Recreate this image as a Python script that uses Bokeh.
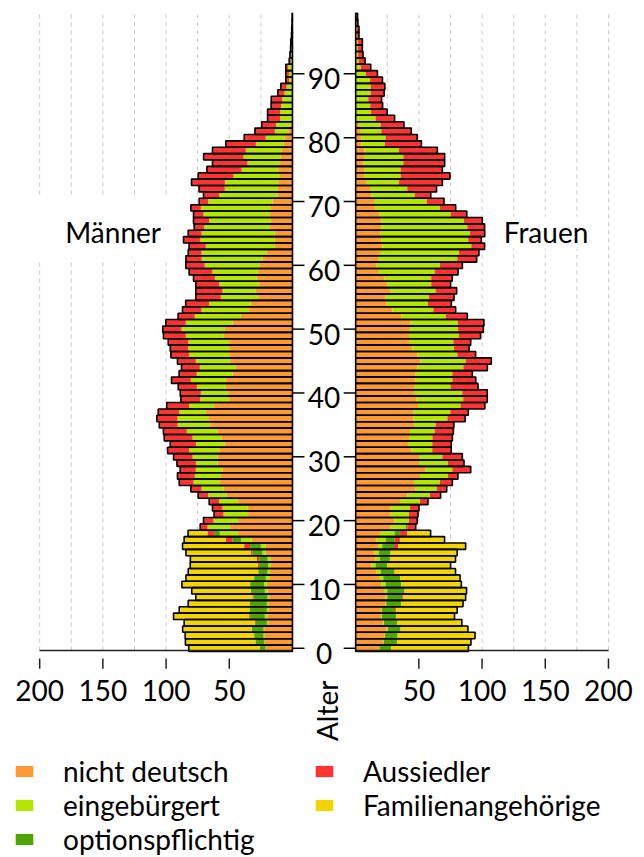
import math
from bokeh.plotting import figure
from bokeh.models import (ColumnDataSource, Range1d, Legend, LegendItem, Label)
from bokeh.core.properties import value
from bokeh.embed import file_html
from bokeh.resources import INLINE

# ---------------- data ----------------
ages = list(range(100))
categories = ["nicht deutsch", "eingebürgert", "optionspflichtig", "Aussiedler", "Familienangehörige"]
colors = ["#FF9933", "#B2E600", "#4DA600", "#FF3333", "#F2D500"]

# Männer (left)
m_nd = [21.1, 21.9, 22.4, 22.4, 19.2, 19.8, 19.2, 19.2, 18.5, 19.8,
        20.3, 17.9, 17.9, 17.1, 17.1, 21.1, 21.1, 32.4, 43.0, 49.3,
        43.0, 35.1, 35.6, 43.0, 51.9, 54.6, 58.0, 56.7, 55.4, 59.3,
        59.3, 58.0, 53.5, 56.2, 59.3, 65.1, 66.7, 68.5, 62.0, 50.1,
        50.9, 52.7, 52.7, 47.5, 44.8, 49.3, 50.1, 50.1, 50.1, 54.6,
        53.5, 47.5, 40.9, 34.3, 33.0, 27.2, 29.0, 26.4, 28.2, 27.2,
        25.6, 23.7, 20.3, 14.0, 14.0, 14.0, 17.7, 17.1, 17.7, 17.1,
        15.8, 11.9, 11.9, 11.3, 9.8, 11.3, 9.8, 9.2, 8.7, 7.1,
        6.1, 3.4, 1.8, 0.5, 0.5, 0.3, 0.2, 0.2, 0.1, 0.1,
        0.1, 0.1, 0, 0, 0, 0, 0, 0, 0, 0]
m_eb = [0.3, 0.3, 0.5, 0.5, 1.1, 2.1, 1.1, 1.1, 1.3, 2.1,
        2.1, 3.2, 1.8, 2.1, 2.6, 2.6, 4.0, 8.4, 14.5, 17.9,
        19.5, 19.5, 19.8, 15.0, 14.8, 17.4, 20.3, 20.6, 21.1, 17.1,
        19.8, 23.7, 22.9, 22.9, 24.3, 25.8, 24.3, 21.1, 19.8, 22.9,
        21.6, 22.9, 27.7, 28.2, 28.5, 27.2, 31.6, 32.4, 32.4, 29.8,
        34.3, 36.9, 36.4, 37.7, 33.0, 29.5, 26.4, 31.6, 33.2, 36.1,
        43.8, 48.2, 51.7, 54.6, 59.0, 58.0, 52.2, 48.8, 52.7, 55.4,
        50.9, 46.1, 41.7, 42.2, 36.9, 29.0, 25.8, 29.5, 28.2, 21.9,
        15.0, 10.5, 11.3, 9.2, 9.2, 8.7, 7.9, 6.1, 4.5, 2.6,
        2.6, 3.4, 1.3, 1.0, 0.8, 0.7, 0.4, 0.3, 0.2, 0.2]
m_op = [4.5, 7.1, 7.4, 9.2, 8.7, 11.6, 13.7, 13.7, 11.1, 11.1,
        11.1, 9.2, 7.4, 7.1, 6.6, 7.9, 8.4, 6.6, 4.5, 0] + [0] * 80
m_as = [0, 0, 0, 0, 0.8, 0.8, 0, 0, 0.8, 0,
        0, 0, 0, 1.1, 1.8, 1.3, 4.7, 5.3, 5.3, 5.8,
        7.9, 7.4, 7.9, 7.9, 7.9, 8.4, 11.3, 13.7, 12.4, 15.0,
        15.0, 17.1, 20.3, 22.4, 18.5, 14.5, 16.3, 16.6, 17.7, 15.3,
        16.3, 14.8, 15.3, 14.0, 14.5, 14.5, 14.5, 14.2, 15.8, 17.7,
        14.8, 15.8, 13.2, 15.0, 18.5, 19.8, 21.1, 18.5, 16.9, 18.5,
        15.0, 12.4, 10.5, 13.2, 13.2, 10.5, 7.9, 12.4, 7.9, 7.9,
        7.1, 12.4, 20.3, 26.4, 27.9, 27.4, 27.7, 31.6, 26.4, 23.7,
        17.1, 15.8, 11.3, 10.0, 10.0, 7.9, 8.7, 5.3, 4.7, 2.6,
        2.6, 1.8, 1.3, 1.0, 0.7, 0.6, 0.4, 0.3, 0.2, 0.1]
m_fa = [56.2, 55.4, 54.6, 54.8, 55.9, 59.8, 55.6, 48.5, 44.8, 46.7,
        54.0, 54.0, 55.4, 53.5, 52.7, 51.4, 48.8, 33.0, 15.3, 0] + [0] * 80

# Frauen (right)
f_nd = [18.5, 21.9, 22.9, 24.5, 21.9, 20.3, 20.3, 23.7, 23.7, 22.4,
        20.3, 18.5, 16.6, 12.4, 15.8, 15.0, 17.7, 16.6, 19.2, 27.7,
        30.8, 27.7, 27.7, 35.1, 40.9, 47.5, 46.1, 50.9, 55.4, 50.1,
        50.1, 44.0, 41.4, 42.2, 43.0, 46.1, 45.6, 45.9, 49.3, 48.2,
        46.1, 46.7, 47.5, 47.5, 48.8, 51.4, 48.8, 44.8, 42.2, 42.2,
        43.0, 43.5, 36.1, 29.0, 24.5, 23.7, 27.2, 25.0, 22.9, 17.7,
        16.6, 17.7, 19.2, 21.1, 20.3, 19.8, 20.3, 20.3, 18.5, 15.8,
        14.5, 12.4, 11.3, 8.7, 6.6, 7.1, 6.1, 6.6, 7.1, 4.5,
        4.5, 3.4, 2.6, 0.8, 0.3, 0.2, 0.2, 0.1, 0.1, 0.1,
        0.1, 0, 0, 0, 0, 0, 0, 0, 0, 0]
f_eb = [0.3, 0.3, 0.3, 1.0, 0.5, 0.5, 0.5, 0.5, 1.3, 2.6,
        3.4, 3.4, 3.2, 3.4, 3.4, 3.4, 3.4, 7.1, 11.6, 11.9,
        11.3, 14.5, 15.3, 15.8, 17.9, 16.6, 20.6, 22.1, 21.1, 22.9,
        18.5, 16.6, 19.2, 18.5, 19.5, 17.1, 27.0, 29.0, 33.7, 36.9,
        38.2, 28.5, 29.0, 29.0, 36.4, 35.6, 31.6, 33.0, 35.1, 39.5,
        38.0, 37.4, 35.1, 32.4, 32.7, 34.3, 36.1, 34.8, 36.9, 44.8,
        50.1, 62.7, 62.5, 70.4, 68.8, 70.7, 68.0, 65.4, 56.7, 50.9,
        41.7, 34.3, 29.5, 25.6, 29.0, 28.5, 31.6, 31.1, 27.2, 18.5,
        19.2, 16.9, 17.1, 15.0, 11.9, 11.3, 9.8, 11.9, 11.9, 11.3,
        7.9, 4.0, 2.4, 1.9, 1.7, 1.7, 0.9, 0.9, 0.6, 0.5]
f_op = [9.2, 10.5, 10.0, 10.0, 10.5, 11.3, 10.5, 11.9, 11.9, 13.7,
        12.4, 13.2, 10.5, 9.2, 7.9, 9.2, 9.2, 7.1, 4.2, 1.3] + [0] * 80
f_as = [0, 0, 0, 0, 0, 0, 0.8, 0, 0.8, 0,
        0, 0, 0.5, 0, 0, 0, 3.2, 4.2, 5.8, 6.6,
        6.6, 7.1, 7.1, 6.3, 8.4, 7.9, 9.8, 7.9, 14.5, 12.7,
        15.8, 15.0, 15.0, 15.8, 14.8, 14.5, 14.0, 14.2, 19.2, 19.0,
        19.8, 21.6, 18.5, 15.8, 19.0, 20.3, 14.5, 11.9, 13.7, 17.1,
        20.0, 20.6, 17.1, 17.7, 18.5, 19.8, 16.6, 15.3, 16.6, 18.5,
        17.7, 15.3, 15.8, 10.5, 10.3, 11.6, 13.7, 14.5, 12.7, 12.4,
        13.7, 12.7, 23.2, 34.3, 39.0, 33.0, 32.7, 32.7, 30.3, 29.0,
        25.0, 23.7, 18.5, 15.0, 12.7, 9.8, 10.5, 10.5, 11.1, 9.8,
        9.2, 7.9, 5.0, 3.9, 3.6, 3.6, 1.7, 1.7, 1.2, 1.0]
f_fa = [61.2, 58.5, 61.2, 53.3, 51.1, 46.1, 48.2, 48.8, 49.3, 49.0,
        47.5, 47.5, 48.2, 50.1, 51.9, 52.7, 53.5, 35.3, 18.5, 0] + [0] * 80

age_ticks = [0, 10, 20, 30, 40, 50, 60, 70, 80, 90]
x_tick_values = [50, 100, 150, 200]
grid_values = [25, 50, 75, 100, 125, 150, 175, 200]

# ---------------- layout constants ----------------
GAP = 25          # half-width of the central age column (data units)
FONT = "Lato"
FS = "28px"
AXIS_Y = -0.36    # bottom axis line
GRID_TOP = 99.9
TICK_Y0, TICK_Y1 = -1.6, -3.2
TICKLAB_Y = -6.6

men = [m_nd, m_eb, m_op, m_as, m_fa]
women = [f_nd, f_eb, f_op, f_as, f_fa]

p = figure(width=644, height=857, output_backend="svg", toolbar_location=None,
           x_range=Range1d(-256.0, 253.5), y_range=Range1d(-32.78, 101.49),
           x_axis_location=None, y_axis_location=None, title=None,
           min_border_left=0, min_border_right=0, min_border_top=0, min_border_bottom=0)
p.outline_line_color = None
p.grid.visible = False

# dashed vertical grid lines
gx = [-(GAP + g) for g in grid_values] + [GAP + g for g in grid_values]
p.segment(x0=gx, x1=gx, y0=[AXIS_Y] * len(gx), y1=[GRID_TOP] * len(gx),
          line_color="#c8c8c8", line_width=1, line_dash="4 4")

# white boxes behind the side labels
p.quad(left=[-227.6, 107.3], right=[-115.2, 205.4], bottom=[61.1, 62.6], top=[70.6, 67.6],
       fill_color="white", line_color=None)

# stacked segments
cum_m = [0.0] * 100
cum_f = [0.0] * 100
renderers = []
for k, cat in enumerate(categories):
    new_m = [a + b for a, b in zip(cum_m, men[k])]
    new_f = [a + b for a, b in zip(cum_f, women[k])]
    src = ColumnDataSource(dict(
        y=ages + ages,
        left=[-(GAP + v) for v in new_m] + [GAP + v for v in cum_f],
        right=[-(GAP + v) for v in cum_m] + [GAP + v for v in new_f],
    ))
    r = p.hbar(y="y", left="left", right="right", height=1.0, source=src,
               fill_color=colors[k], line_color=None)
    renderers.append(r)
    cum_m, cum_f = new_m, new_f

# bar outlines (totals)
tot = ColumnDataSource(dict(
    y=ages + ages,
    left=[-(GAP + v) for v in cum_m] + [GAP] * 100,
    right=[-GAP] * 100 + [GAP + v for v in cum_f],
))
p.hbar(y="y", left="left", right="right", height=1.0, source=tot,
       fill_color=None, line_color="black", line_width=1.6)

# bottom axes
xmax = max(x_tick_values)
p.segment(x0=[-(GAP + xmax), GAP], x1=[-GAP, GAP + xmax],
          y0=[AXIS_Y, AXIS_Y], y1=[AXIS_Y, AXIS_Y], line_color="#222222", line_width=1.5)
tx = [-(GAP + v) for v in x_tick_values] + [GAP + v for v in x_tick_values]
tl = [str(v) for v in x_tick_values] * 2
p.segment(x0=tx, x1=tx, y0=[TICK_Y0] * len(tx), y1=[TICK_Y1] * len(tx),
          line_color="#222222", line_width=1.5)
p.text(x=tx, y=[TICKLAB_Y] * len(tx), text=tl, text_font=value(FONT), text_font_size=FS,
       text_align="center", text_baseline="middle", text_color="black")

# central age axis
tick_len = 9.5
p.segment(x0=[-GAP] * len(age_ticks), x1=[-GAP + tick_len] * len(age_ticks),
          y0=age_ticks, y1=age_ticks, line_color="black", line_width=1.5)
p.segment(x0=[GAP - tick_len] * len(age_ticks), x1=[GAP] * len(age_ticks),
          y0=age_ticks, y1=age_ticks, line_color="black", line_width=1.5)
p.text(x=[0] * len(age_ticks), y=age_ticks, text=[str(a) for a in age_ticks],
       text_font=value(FONT), text_font_size=FS, text_align="center",
       text_baseline="middle", y_offset=5, text_color="black")

# labels
p.add_layout(Label(x=-166.9, y=65.2, text="Männer", text_font=FONT, text_font_size=FS,
                   text_align="center", text_baseline="middle", text_color="black"))
p.add_layout(Label(x=175.6, y=65.2, text="Frauen", text_font=FONT, text_font_size=FS,
                   text_align="center", text_baseline="middle", text_color="black"))
p.add_layout(Label(x=2.7, y=-9.8, text="Alter", angle=math.pi / 2, text_font=FONT,
                   text_font_size=FS, text_align="center", text_baseline="middle",
                   text_color="black"))

# legend
legend = Legend(items=[LegendItem(label=c, renderers=[r]) for c, r in zip(categories, renderers)],
                location=(13, 1), orientation="vertical", nrows=3,
                glyph_width=22, glyph_height=14, label_standoff=28, label_width=250,
                spacing=-5, padding=0, margin=0, border_line_color=None,
                background_fill_alpha=0, label_text_font=FONT, label_text_font_size=FS,
                label_text_color="black", label_text_line_height=1.0, label_height=28)
p.add_layout(legend)

open("out.html", "w").write(file_html(p, INLINE))
